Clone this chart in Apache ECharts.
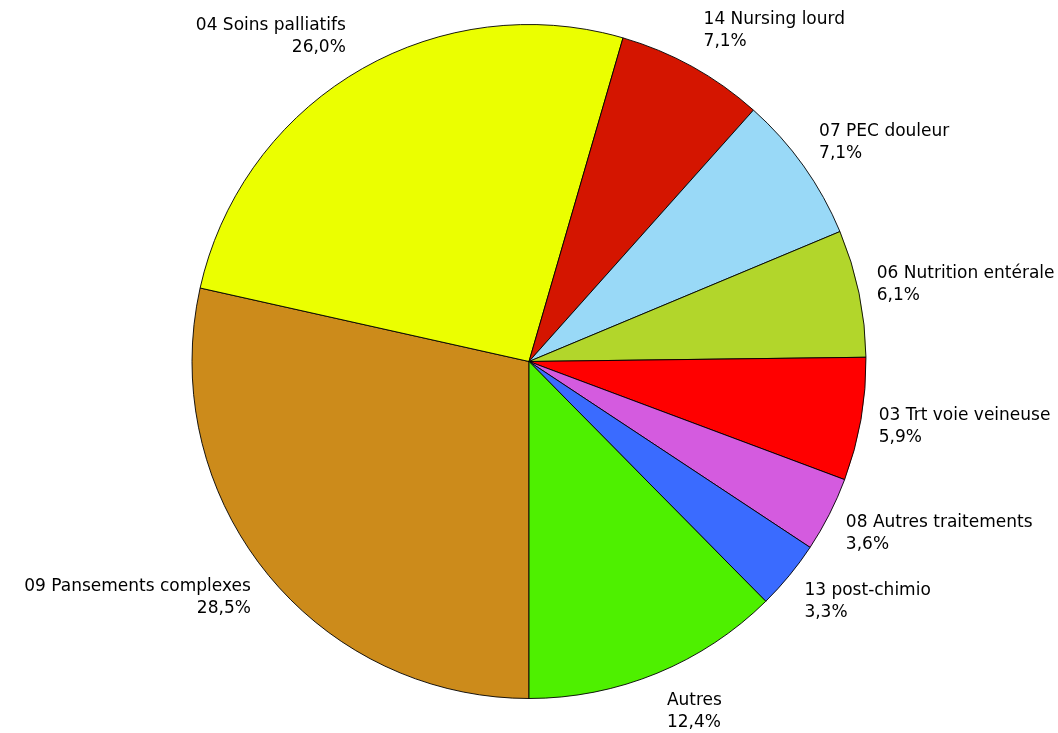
<!DOCTYPE html>
<html>
<head>
<meta charset="utf-8">
<script src="https://cdn.jsdelivr.net/npm/echarts@6/dist/echarts.min.js"></script>
<style>
  html, body { margin: 0; padding: 0; background: #fff; }
  #chart { width: 1058px; height: 733px; }
</style>
</head>
<body>
<div id="chart"></div>
<script>
// Categories, clockwise from the bottom of the pie
const categories = [
  '09 Pansements complexes',
  '04 Soins palliatifs',
  '14 Nursing lourd',
  '07 PEC douleur',
  '06 Nutrition entérale',
  '03 Trt voie veineuse',
  '08 Autres traitements',
  '13 post-chimio',
  'Autres'
];
// Share of each category, in percent
const shares = [28.5, 26.0, 7.1, 7.1, 6.1, 5.9, 3.6, 3.3, 12.4];
const palette = [
  '#CC8B1B', '#EBFF00', '#D41500', '#99D9F7', '#B2D62B',
  '#FF0000', '#D45BDF', '#3A6BFF', '#4EF000'
];

const CX = 529, CY = 361.5;

const chart = echarts.init(document.getElementById('chart'), null, { renderer: 'canvas' });

chart.setOption({
  animation: false,
  backgroundColor: '#ffffff',
  series: [{
    type: 'pie',
    center: [CX, CY],
    radius: 337,
    startAngle: 270,
    clockwise: true,
    avoidLabelOverlap: false,
    minShowLabelAngle: 0,
    itemStyle: { borderColor: '#000000', borderWidth: 0.9 },
    label: {
      show: true,
      position: 'outside',
      color: '#000000',
      fontFamily: 'DejaVu Sans',
      fontSize: 17,
      lineHeight: 22,
      distanceToLabelLine: 5,
      formatter: p => p.name + '\n' + p.value.toFixed(1).replace('.', ',') + '%'
    },
    labelLine: { show: false, length: 13, length2: 0 },
    // push labels slightly further out vertically (elliptical placement)
    labelLayout: p => {
      const mid = p.labelRect.y + p.labelRect.height / 2;
      return { dy: (mid - CY) * 0.08 };
    },
    emphasis: { disabled: true },
    data: categories.map((name, i) => ({
      name: name,
      value: shares[i],
      itemStyle: { color: palette[i] }
    }))
  }]
});
</script>
</body>
</html>
